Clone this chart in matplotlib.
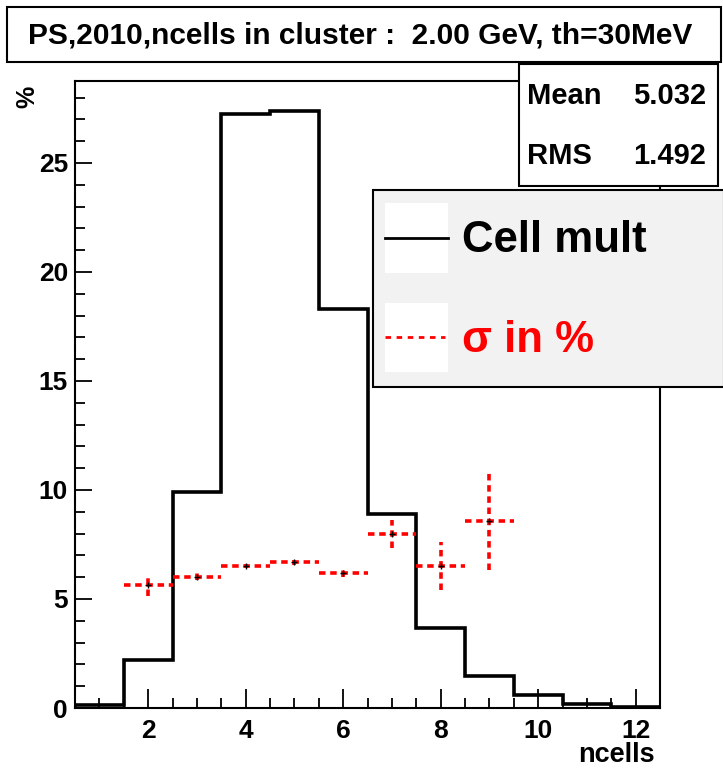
import numpy as np
import matplotlib
matplotlib.use('Agg')
import matplotlib.pyplot as plt
from matplotlib.patches import Rectangle
from matplotlib.lines import Line2D
from matplotlib.ticker import MultipleLocator

plt.rcParams['font.family'] = ['Liberation Sans', 'DejaVu Sans']
plt.rcParams['font.weight'] = 'bold'

# histogram: cell multiplicity in % per ncells bin
bin_edges = [0.5, 1.5, 2.5, 3.5, 4.5, 5.5, 6.5, 7.5, 8.5, 9.5, 10.5, 11.5, 12.5]
cell_mult = [0.15, 2.2, 9.9, 27.25, 27.4, 18.3, 8.9, 3.65, 1.45, 0.6, 0.2, 0.05]

# sigma in % with errors
sigma_x = [2, 3, 4, 5, 6, 7, 8, 9]
sigma_val = [5.63, 6.03, 6.51, 6.68, 6.2, 7.98, 6.51, 8.6]
sigma_err = [0.5, 0.15, 0.1, 0.12, 0.2, 0.63, 1.12, 2.25]

title = "PS,2010,ncells in cluster :  2.00 GeV, th=30MeV"
stats = [("Mean", "5.032"), ("RMS", "1.492")]

W, H = 723, 773
fig = plt.figure(figsize=(W / 100, H / 100), dpi=100)


def fx(px):
    return px / W


def fy(py):
    return 1 - py / H


ax = fig.add_axes([fx(75), fy(708), fx(660) - fx(75), fy(81) - fy(708)])
ax.stairs(cell_mult, bin_edges, color='black', linewidth=2.6, zorder=3)

eb = ax.errorbar(sigma_x, sigma_val, xerr=0.5, yerr=sigma_err, fmt='+', color='black',
                 markersize=5, markeredgewidth=1, ecolor='red', elinewidth=2.6, zorder=4)
for c in eb[2]:
    c.set_linestyle((0, (1.8, 1.3)))

ax.set_xlim(0.5, 12.5)
ax.set_ylim(0, 28.76)
ax.xaxis.set_major_locator(MultipleLocator(2))
ax.xaxis.set_minor_locator(MultipleLocator(0.5))
ax.yaxis.set_major_locator(MultipleLocator(5))
ax.yaxis.set_minor_locator(MultipleLocator(1))
ax.tick_params(axis='x', which='major', direction='in', length=13.5, width=1.3, pad=8, labelsize=19)
ax.tick_params(axis='x', which='minor', direction='in', length=7, width=1.3)
ax.tick_params(axis='y', which='major', direction='in', length=12, width=1.3, pad=5, labelsize=19)
ax.tick_params(axis='y', which='minor', direction='in', length=7, width=1.3)
for s in ax.spines.values():
    s.set_linewidth(1.5)

fig.text(fx(655), fy(755), "ncells", ha='right', va='center', fontsize=19.5, fontweight='bold')
fig.text(fx(27), fy(97), "%", ha='center', va='center', rotation=90, fontsize=18, fontweight='bold')

# title box
fig.patches.append(Rectangle((fx(7), fy(62)), fx(721) - fx(7), fy(7) - fy(62),
                             transform=fig.transFigure, facecolor='white',
                             edgecolor='black', linewidth=1.5, zorder=5))
fig.text(fx(360), fy(35), title, ha='center', va='center', fontsize=21.5,
         fontweight='bold', zorder=6)

# stats box
fig.add_artist(Rectangle((fx(519), fy(186)), fx(718) - fx(519), fy(64) - fy(186),
                         transform=fig.transFigure, facecolor='white',
                         edgecolor='black', linewidth=1.5, zorder=5))
for (name, val), yy in zip(stats, [96, 156]):
    fig.text(fx(527), fy(yy), name, ha='left', va='center', fontsize=21, zorder=6)
    fig.text(fx(706), fy(yy), val, ha='right', va='center', fontsize=21, zorder=6)

# legend box
fig.add_artist(Rectangle((fx(373), fy(387)), fx(724) - fx(373), fy(190) - fy(387),
                         transform=fig.transFigure, facecolor='#f2f2f2',
                         edgecolor='black', linewidth=1.5, zorder=5))
for y0, y1 in [(203, 273), (303, 372)]:
    fig.add_artist(Rectangle((fx(385), fy(y1)), fx(448) - fx(385), fy(y0) - fy(y1),
                             transform=fig.transFigure, facecolor='white',
                             edgecolor='none', zorder=6))
fig.add_artist(Line2D([fx(385), fx(448)], [fy(238), fy(238)], transform=fig.transFigure,
                      color='black', linewidth=2, zorder=7))
fig.add_artist(Line2D([fx(385), fx(445)], [fy(337), fy(337)], transform=fig.transFigure,
                      color='red', linewidth=2, linestyle=(0, (2, 2)), zorder=7))
fig.text(fx(462), fy(241), "Cell mult", ha='left', va='center', fontsize=31.5,
         color='black', zorder=8)
fig.text(fx(462), fy(340), "σ in %", ha='left', va='center', fontsize=31.5,
         color='red', zorder=8)

fig.savefig('out.png', dpi=100)
